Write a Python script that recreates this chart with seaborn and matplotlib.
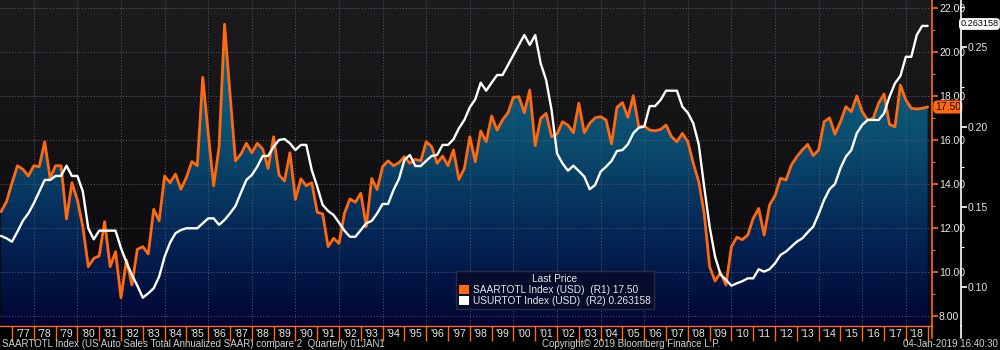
import numpy as np
import pandas as pd
import matplotlib
matplotlib.use("Agg")
import matplotlib.pyplot as plt
import seaborn as sns
from matplotlib.colors import LinearSegmentedColormap
from matplotlib.patches import Patch
from matplotlib.lines import Line2D
import matplotlib.ticker as mticker

# ---------------- data ----------------
quarters = pd.period_range("1976Q2", "2018Q4", freq="Q")

auto_sales_saar = [  # SAARTOTL, millions (R1)
    12.74, 13.2, 14.05, 14.83, 14.67, 14.36, 14.83, 14.79, 15.92, 14.26,
    14.83, 14.83, 12.41, 14.06, 13.27, 12.06, 10.24, 10.62, 10.73, 12.29,
    10.24, 10.92, 8.83, 10.55, 9.41, 11.03, 11.15, 10.82, 12.85, 12.33,
    14.36, 14.06, 14.45, 13.76, 14.3, 15.02, 14.83, 18.85, 16.3, 13.92,
    15.7, 21.26, 18.1, 15.05, 15.36, 15.85, 15.42, 15.85, 15.59, 14.71,
    16.15, 14.41, 14.14, 15.42, 13.3, 14.23, 13.92, 14.06, 12.71, 12.64,
    11.15, 11.53, 11.3, 12.67, 13.32, 13.17, 13.58, 12.06, 14.25, 13.75,
    14.79, 15.05, 14.83, 14.97, 15.24, 14.94, 15.12, 15.05, 15.92, 15.7,
    14.94, 15.27, 14.83, 15.55, 14.21, 14.71, 16.15, 15.01, 16.41, 15.92,
    17.09, 16.45, 16.91, 17.24, 17.94, 17.97, 17.24, 18.27, 15.74, 16.98,
    17.21, 16.15, 16.27, 16.83, 16.68, 16.33, 17.67, 16.33, 16.76, 17.01,
    17.06, 16.91, 15.82, 17.49, 17.7, 17.03, 18.01, 16.6, 16.64, 16.45,
    16.42, 16.48, 16.68, 16.15, 15.92, 16.3, 15.92, 14.94, 14.1, 12.67,
    10.24, 9.59, 9.97, 9.41, 11.15, 11.58, 11.47, 11.68, 12.44, 12.89,
    11.68, 13.05, 13.47, 14.26, 14.18, 14.86, 15.24, 15.55, 15.8, 15.29,
    15.55, 16.83, 17.01, 16.26, 16.83, 17.51, 17.29, 18.0, 17.29, 16.91,
    16.98, 17.67, 18.09, 16.71, 16.6, 18.5, 17.82, 17.44, 17.41, 17.44,
    17.5,
]

usurtot_compare = [  # USURTOT compare series (R2)
    0.1319, 0.1304, 0.1283, 0.1346, 0.1414, 0.146, 0.1523, 0.1596, 0.1669, 0.1669,
    0.1694, 0.1694, 0.1758, 0.1694, 0.1694, 0.1596, 0.1367, 0.1298, 0.1352, 0.1352,
    0.1352, 0.1352, 0.1242, 0.1154, 0.1075, 0.1008, 0.0933, 0.096, 0.0992, 0.1065,
    0.1189, 0.1277, 0.1336, 0.1356, 0.1367, 0.1367, 0.1367, 0.1398, 0.1429, 0.1429,
    0.1388, 0.1419, 0.146, 0.1506, 0.1589, 0.1669, 0.17, 0.1752, 0.1819, 0.1819,
    0.1877, 0.1919, 0.1925, 0.1898, 0.1856, 0.1888, 0.1888, 0.1731, 0.1627, 0.1513,
    0.1475, 0.145, 0.1402, 0.1352, 0.1314, 0.1314, 0.1356, 0.1398, 0.1413, 0.146,
    0.1519, 0.1519, 0.1606, 0.1675, 0.1794, 0.1825, 0.1756, 0.1756, 0.1789, 0.1819,
    0.1825, 0.1888, 0.1888, 0.1923, 0.1992, 0.2044, 0.2123, 0.2173, 0.2277, 0.2227,
    0.2277, 0.2325, 0.2325, 0.2388, 0.245, 0.2513, 0.2575, 0.2513, 0.2575, 0.2398,
    0.2294, 0.2106, 0.1835, 0.1773, 0.1727, 0.1758, 0.1725, 0.169, 0.1611, 0.1638,
    0.1721, 0.1752, 0.1788, 0.185, 0.1856, 0.1892, 0.1961, 0.1996, 0.2002, 0.2131,
    0.2131, 0.2169, 0.2227, 0.2227, 0.2227, 0.2127, 0.2089, 0.2023, 0.1892, 0.1627,
    0.1377, 0.1189, 0.1079, 0.1044, 0.1008, 0.1023, 0.1036, 0.1054, 0.1054, 0.1111,
    0.1096, 0.1111, 0.1148, 0.12, 0.1221, 0.1252, 0.1283, 0.1304, 0.1342, 0.1377,
    0.1456, 0.1544, 0.1611, 0.1644, 0.1742, 0.1815, 0.1856, 0.1961, 0.2013, 0.2044,
    0.2044, 0.2044, 0.2086, 0.2189, 0.2273, 0.2319, 0.2439, 0.2439, 0.2575, 0.2632,
    0.2632,
]

label_years = list(range(1977, 2019))
year_labels = ["'%02d" % (y % 100) for y in label_years]
r1_ticks = [8, 10, 12, 14, 16, 18, 20, 22]
r2_ticks = [0.10, 0.15, 0.20, 0.25]
last_r1 = "17.50"
last_r2 = "0.263158"
legend_labels = ["SAARTOTL Index (USD)  (R1) 17.50",
                 "USURTOT Index (USD)  (R2) 0.263158"]
footer_left = "SAARTOTL Index (US Auto Sales Total Annualized SAAR) compare 2  Quarterly 01JAN1"
footer_mid = "Copyright\u00a9 2019 Bloomberg Finance L.P."
footer_right = "04-Jan-2019 16:40:30"

# ---------------- style ----------------
sns.set_theme(style="dark")
plt.rcParams["font.family"] = ["Liberation Sans Narrow", "Liberation Sans", "DejaVu Sans"]
ORANGE = "#ff6a10"
TXT = "#e8e8e8"

df = pd.DataFrame({
    "t": [q.year + q.quarter * 0.25 for q in quarters],
    "sales": auto_sales_saar,
    "inv": usurtot_compare,
})

fig = plt.figure(figsize=(10, 3.5), dpi=100, facecolor="black")
ax = fig.add_axes([0, 24 / 350, 0.932, 326 / 350])
ax.set_facecolor("black")

xlim = (1976.45, 2019.2)
ylim1 = (7.545, 22.364)
ylim2 = (0.0756, 0.2794)

# background gradient
bg = LinearSegmentedColormap.from_list("bg", ["#08080b", "#121215", "#1c1c1f"])
ax.imshow(np.linspace(0, 1, 256).reshape(-1, 1), extent=[*xlim, *ylim1],
          origin="lower", aspect="auto", cmap=bg, zorder=0)

# gradient area under the orange series
poly = ax.fill_between(df["t"], df["sales"], ylim1[0] - 1, facecolor="none", lw=0)
fill_cmap = LinearSegmentedColormap.from_list(
    "fill", [(0.0, "#010532"), (0.3, "#042656"), (0.6, "#0a4d6e"), (1.0, "#0f6a8a")])
im = ax.imshow(np.linspace(0, 1, 256).reshape(-1, 1), extent=[xlim[0], xlim[1], ylim1[0], 21.5],
               origin="lower", aspect="auto", cmap=fill_cmap, zorder=1)
im.set_clip_path(poly.get_paths()[0], transform=ax.transData)

# grid
for yv in r1_ticks:
    ax.axhline(yv, color="#5c5c64", lw=0.7, ls=(0, (1, 2)), zorder=2)
for xv in range(1978, 2019, 2):
    ax.axvline(xv, color="#5c5c64", lw=0.7, ls=(0, (1, 2)), zorder=2)

sns.lineplot(data=df, x="t", y="sales", ax=ax, color=ORANGE, lw=2.0, zorder=4)

ax2 = ax.twinx()
sns.lineplot(data=df, x="t", y="inv", ax=ax2, color="white", lw=1.7, zorder=5)

for a in (ax, ax2):
    a.set_xlim(xlim)
    a.set_xlabel("")
    a.set_ylabel("")
    a.grid(False)
ax.set_ylim(ylim1)
ax2.set_ylim(ylim2)

# x axis: year separators + centered labels
ax.set_xticks(list(range(1977, 2020)))
ax.set_xticklabels([])
ax.set_xticks([y + 0.5 for y in label_years], minor=True)
ax.set_xticklabels(year_labels, minor=True)
ax.tick_params(axis="x", which="major", direction="out", length=11, width=1,
               color=ORANGE, bottom=True)
ax.tick_params(axis="x", which="minor", length=0, pad=2, labelsize=7.5,
               labelcolor=TXT, bottom=True)

# right axis R1 (orange)
ax.yaxis.tick_right()
ax.set_yticks(r1_ticks)
ax.yaxis.set_major_formatter(mticker.FormatStrFormatter("%.2f"))
ax.yaxis.set_minor_locator(mticker.MultipleLocator(1))
ax.tick_params(axis="y", which="major", direction="out", length=4, width=1.2,
               color=ORANGE, labelcolor=TXT, labelsize=7.5, pad=1, right=True, left=False)
ax.tick_params(axis="y", which="minor", direction="out", length=2.5, width=0.8,
               color=ORANGE, right=True, left=False)

# right axis R2 (white)
ax2.set_yticks(r2_ticks)
ax2.yaxis.set_major_formatter(mticker.FormatStrFormatter("%.2f"))
ax2.yaxis.set_minor_locator(mticker.MultipleLocator(0.025))
ax2.spines["right"].set_position(("outward", 21))
ax2.tick_params(axis="y", which="major", direction="out", length=4, width=1.2,
                color="white", labelcolor=TXT, labelsize=7.5, pad=1)
ax2.tick_params(axis="y", which="minor", direction="out", length=2.5, width=0.8, color="white")

for s in ("left", "top"):
    ax.spines[s].set_visible(False)
    ax2.spines[s].set_visible(False)
ax2.spines["bottom"].set_visible(False)
ax.spines["right"].set_color(ORANGE)
ax.spines["right"].set_linewidth(1.2)
ax.spines["bottom"].set_color(ORANGE)
ax.spines["bottom"].set_linewidth(1.0)
ax2.spines["right"].set_color("white")
ax2.spines["right"].set_linewidth(1.2)

# spine continuation into the label band
fig.add_artist(Line2D([0.932, 0.932], [12 / 350, 24 / 350], color=ORANGE, lw=1.2))
fig.add_artist(Line2D([0.961, 0.961], [12 / 350, 24 / 350], color="white", lw=1.2))

# last-value badges
ax.annotate(last_r1, xy=(1, float(auto_sales_saar[-1])), xycoords=("axes fraction", "data"),
            xytext=(2, 0), textcoords="offset points", ha="left", va="center",
            fontsize=7.5, color="#1a0a00",
            bbox=dict(boxstyle="round,pad=0.15,rounding_size=0.4", fc=ORANGE, ec="none"))
fig.text(0.9985, 1 - 24 / 350, last_r2, ha="right", va="center",
         fontsize=6.6, color="black",
         bbox=dict(boxstyle="round,pad=0.15,rounding_size=0.4", fc="white", ec="none"))

# legend
handles = [Patch(facecolor=ORANGE, edgecolor="none"), Patch(facecolor="white", edgecolor="none")]
leg = ax2.legend(handles, legend_labels, title="Last Price", loc="center",
                 bbox_to_anchor=(0.555, 0.171), bbox_transform=fig.transFigure,
                 fontsize=7.3, title_fontsize=7.3, frameon=True, fancybox=False,
                 handlelength=0.9, handleheight=0.9, handletextpad=0.4,
                 borderpad=0.3, labelspacing=0.1, borderaxespad=0)
leg.get_frame().set_facecolor("#080c2a")
leg.get_frame().set_edgecolor("#2a2e48")
leg.get_frame().set_alpha(0.92)
for t in leg.get_texts():
    t.set_color(TXT)
leg.get_title().set_color(TXT)
leg.set_zorder(10)

# footer
fig.text(0.002, 6 / 350, footer_left, fontsize=7, color="#d0d0d0", ha="left", va="center")
fig.text(0.542, 6 / 350, footer_mid, fontsize=7, color="#d0d0d0", ha="left", va="center")
fig.text(0.998, 6 / 350, footer_right, fontsize=7, color="#d0d0d0", ha="right", va="center")

fig.savefig("out.png", dpi=100, facecolor="black")
